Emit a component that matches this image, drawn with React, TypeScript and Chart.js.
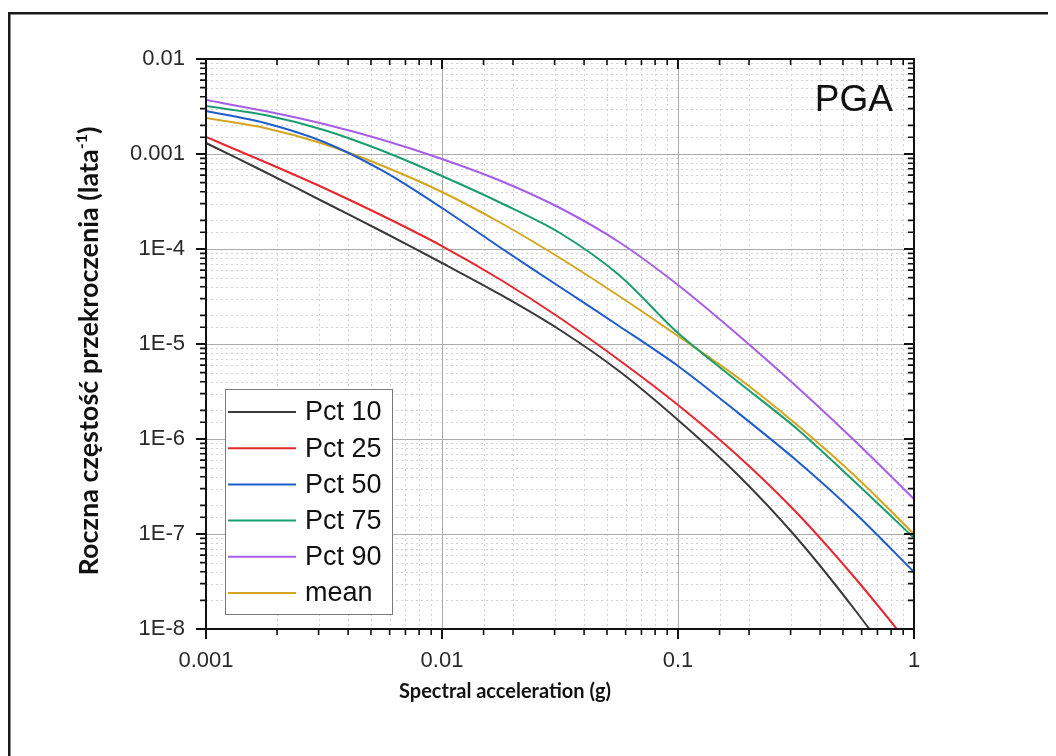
import React, { useEffect, useRef } from 'react';
import { Chart, registerables } from 'chart.js';

Chart.register(...registerables);

// Spectral acceleration (g)
const xValues = [0.001, 0.001778, 0.003162, 0.005623, 0.01, 0.01778, 0.03162, 0.05623, 0.1, 0.1778, 0.3162, 0.5623, 1];

const pct10 = [1.305e-3, 6.465e-4, 3.124e-4, 1.51e-4, 7.123e-5, 3.28e-5, 1.404e-5, 5.196e-6, 1.585e-6, 4.281e-7, 9.3e-8, 1.585e-8, 2.28e-9];
const pct25 = [1.51e-3, 8.235e-4, 4.386e-4, 2.225e-4, 1.075e-4, 4.718e-5, 1.878e-5, 6.785e-6, 2.28e-6, 6.785e-7, 1.704e-7, 3.442e-8, 6.008e-9];
const pct50 = [2.836e-3, 2.12e-3, 1.338e-3, 6.624e-4, 2.701e-4, 1.024e-4, 3.981e-5, 1.547e-5, 5.866e-6, 1.924e-6, 6.008e-7, 1.663e-7, 3.981e-8];
const pct75 = [3.2e-3, 2.573e-3, 1.789e-3, 1.075e-3, 5.866e-4, 3.05e-4, 1.474e-4, 5.325e-5, 1.305e-5, 4.079e-6, 1.305e-6, 3.527e-7, 9.076e-8];
const pct90 = [3.701e-3, 2.836e-3, 2.069e-3, 1.404e-3, 8.858e-4, 5.196e-4, 2.701e-4, 1.185e-4, 4.18e-5, 1.274e-5, 3.613e-6, 9.526e-7, 2.336e-7];
const meanVals = [2.392e-3, 1.878e-3, 1.274e-3, 7.477e-4, 3.981e-4, 1.878e-4, 8.04e-5, 3.2e-5, 1.214e-5, 4.494e-6, 1.438e-6, 4.079e-7, 1.0e-7];

const seriesLabels = ['Pct 10', 'Pct 25', 'Pct 50', 'Pct 75', 'Pct 90', 'mean'];
const seriesValues = [pct10, pct25, pct50, pct75, pct90, meanVals];
const seriesColors = ['#3a3a3a', '#e8262f', '#1f5ccc', '#1a9e6e', '#a65ee6', '#d6a51f'];

const xDecades = [0.001, 0.01, 0.1, 1];
const xTickLabels = ['0.001', '0.01', '0.1', '1'];
const yDecades = [1e-8, 1e-7, 1e-6, 1e-5, 1e-4, 0.001, 0.01];
const yTickLabels = ['1E-8', '1E-7', '1E-6', '1E-5', '1E-4', '0.001', '0.01'];

const panelLabel = 'PGA';
const xTitle = 'Spectral acceleration (g)';
const yTitleMain = 'Roczna częstość przekroczenia (lata';
const yTitleSup = '-1';
const yTitleEnd = ')';

const SANS = '"Liberation Sans", Arial, sans-serif';
const TITLE_FONT = 'Lato, "Open Sans", sans-serif';

const isDecade = (v: number) => Math.abs(Math.log10(v) - Math.round(Math.log10(v))) < 1e-6;

const labelFor = (v: number, decades: number[], labels: string[]) => {
  for (let i = 0; i < decades.length; i++) {
    if (Math.abs(Math.log10(v) - Math.log10(decades[i])) < 1e-6) return labels[i];
  }
  return '';
};

const decoPlugin = {
  id: 'deco',
  beforeDraw(chart: any) {
    const ctx = chart.ctx;
    ctx.save();
    ctx.fillStyle = '#ffffff';
    ctx.fillRect(0, 0, chart.width, chart.height);
    ctx.fillStyle = '#1a1a1a';
    ctx.fillRect(0, 4, chart.width, 2.5);
    ctx.fillRect(0, 4, 2.5, chart.height);
    ctx.restore();
  },
  beforeDatasetsDraw(chart: any) {
    const ctx = chart.ctx;
    const { left, right, top, bottom } = chart.chartArea;
    const xs = chart.scales.x;
    const ys = chart.scales.y;
    ctx.save();
    ctx.lineWidth = 1;
    const drawSet = (major: boolean) => {
      if (major) {
        ctx.setLineDash([]);
        ctx.strokeStyle = '#ababab';
      } else {
        ctx.setLineDash([2, 3]);
        ctx.strokeStyle = '#d2d2d2';
      }
      xs.ticks.forEach((t: any) => {
        if (isDecade(t.value) !== major) return;
        const px = Math.round(xs.getPixelForValue(t.value)) + 0.5;
        if (px <= left + 1 || px >= right - 1) return;
        ctx.beginPath();
        ctx.moveTo(px, top);
        ctx.lineTo(px, bottom);
        ctx.stroke();
      });
      ys.ticks.forEach((t: any) => {
        if (isDecade(t.value) !== major) return;
        const py = Math.round(ys.getPixelForValue(t.value)) + 0.5;
        if (py <= top + 1 || py >= bottom - 1) return;
        ctx.beginPath();
        ctx.moveTo(left, py);
        ctx.lineTo(right, py);
        ctx.stroke();
      });
    };
    drawSet(false);
    drawSet(true);
    ctx.restore();
  },
  afterDatasetsDraw(chart: any) {
    const ctx = chart.ctx;
    const { left, right, top, bottom } = chart.chartArea;
    const xs = chart.scales.x;
    const ys = chart.scales.y;
    ctx.save();
    ctx.setLineDash([]);
    ctx.strokeStyle = '#111111';
    xs.ticks.forEach((t: any) => {
      const major = isDecade(t.value);
      const len = major ? 10 : 6;
      ctx.lineWidth = major ? 2 : 1.6;
      const px = xs.getPixelForValue(t.value);
      ctx.beginPath();
      ctx.moveTo(px, bottom);
      ctx.lineTo(px, bottom + len);
      ctx.moveTo(px, top);
      ctx.lineTo(px, top + len);
      ctx.stroke();
    });
    ys.ticks.forEach((t: any) => {
      const major = isDecade(t.value);
      const len = major ? 10 : 6;
      ctx.lineWidth = major ? 2 : 1.6;
      const py = ys.getPixelForValue(t.value);
      ctx.beginPath();
      ctx.moveTo(left, py);
      ctx.lineTo(left - len, py);
      ctx.moveTo(right, py);
      ctx.lineTo(right - len, py);
      ctx.stroke();
    });
    ctx.lineWidth = 2;
    ctx.strokeRect(left, top, right - left, bottom - top);

    // legend
    const lx = 217.5, ly = 381.5, lw = 167, lh = 225;
    ctx.fillStyle = '#ffffff';
    ctx.fillRect(lx, ly, lw, lh);
    ctx.lineWidth = 1;
    ctx.strokeStyle = '#7a7a7a';
    ctx.strokeRect(lx, ly, lw, lh);
    ctx.font = '27px ' + SANS;
    ctx.textAlign = 'left';
    ctx.textBaseline = 'middle';
    chart.data.datasets.forEach((ds: any, i: number) => {
      const cy = 404 + i * 36.2;
      ctx.strokeStyle = ds.borderColor;
      ctx.lineWidth = 2;
      ctx.beginPath();
      ctx.moveTo(220, cy);
      ctx.lineTo(288, cy);
      ctx.stroke();
      ctx.fillStyle = '#111111';
      ctx.fillText(ds.label, 297, cy + 1);
    });

    // panel label
    ctx.font = '37px ' + SANS;
    ctx.textAlign = 'right';
    ctx.textBaseline = 'alphabetic';
    ctx.fillStyle = '#111111';
    ctx.fillText(panelLabel, 885, 103);

    // x title
    ctx.font = 'bold 20px ' + TITLE_FONT;
    ctx.textAlign = 'center';
    ctx.fillText(xTitle, 497, 690);

    // y title
    ctx.save();
    ctx.translate(90, 343);
    ctx.rotate(-Math.PI / 2);
    const mainFont = 'bold 27px ' + TITLE_FONT;
    const supFont = 'bold 16px ' + TITLE_FONT;
    ctx.font = mainFont;
    const w1 = ctx.measureText(yTitleMain).width;
    const w3 = ctx.measureText(yTitleEnd).width;
    ctx.font = supFont;
    const w2 = ctx.measureText(yTitleSup).width;
    const total = w1 + w2 + w3;
    let x0 = -total / 2;
    ctx.textAlign = 'left';
    ctx.font = mainFont;
    ctx.fillText(yTitleMain, x0, 0);
    x0 += w1;
    ctx.font = supFont;
    ctx.fillText(yTitleSup, x0, -11);
    x0 += w2;
    ctx.font = mainFont;
    ctx.fillText(yTitleEnd, x0, 0);
    ctx.restore();

    ctx.restore();
  },
};

export default function App() {
  const ref = useRef<HTMLCanvasElement | null>(null);
  useEffect(() => {
    if (!ref.current) return;
    const chart = new Chart(ref.current, {
      type: 'line',
      data: {
        datasets: seriesLabels.map((label, i) => ({
          label,
          data: xValues.map((x, k) => ({ x, y: seriesValues[i][k] })),
          borderColor: seriesColors[i],
          backgroundColor: seriesColors[i],
          borderWidth: 2,
          pointRadius: 0,
          fill: false,
          tension: 0.3,
        })),
      },
      options: {
        animation: false,
        responsive: false,
        devicePixelRatio: 1,
        parsing: false as any,
        layout: { padding: { left: 0, right: 142, top: 51, bottom: 67 } },
        plugins: {
          legend: { display: false },
          tooltip: { enabled: false },
        },
        scales: {
          x: {
            type: 'logarithmic',
            min: 0.001,
            max: 1,
            grid: { display: false },
            border: { display: false },
            afterFit: (s: any) => { s.height = 60; },
            ticks: {
              autoSkip: false,
              maxRotation: 0,
              padding: 11,
              color: '#2a2a2a',
              font: { family: SANS, size: 22 },
              callback: (v: any) => labelFor(Number(v), xDecades, xTickLabels),
            },
          },
          y: {
            type: 'logarithmic',
            min: 1e-8,
            max: 0.01,
            grid: { display: false },
            border: { display: false },
            afterFit: (s: any) => { s.width = 198; },
            ticks: {
              autoSkip: false,
              padding: 13,
              color: '#2a2a2a',
              font: { family: SANS, size: 22 },
              callback: (v: any) => labelFor(Number(v), yDecades, yTickLabels),
            },
          },
        },
      },
      plugins: [decoPlugin],
    });
    return () => chart.destroy();
  }, []);
  return <canvas ref={ref} width={1048} height={748} style={{ display: 'block' }} />;
}
